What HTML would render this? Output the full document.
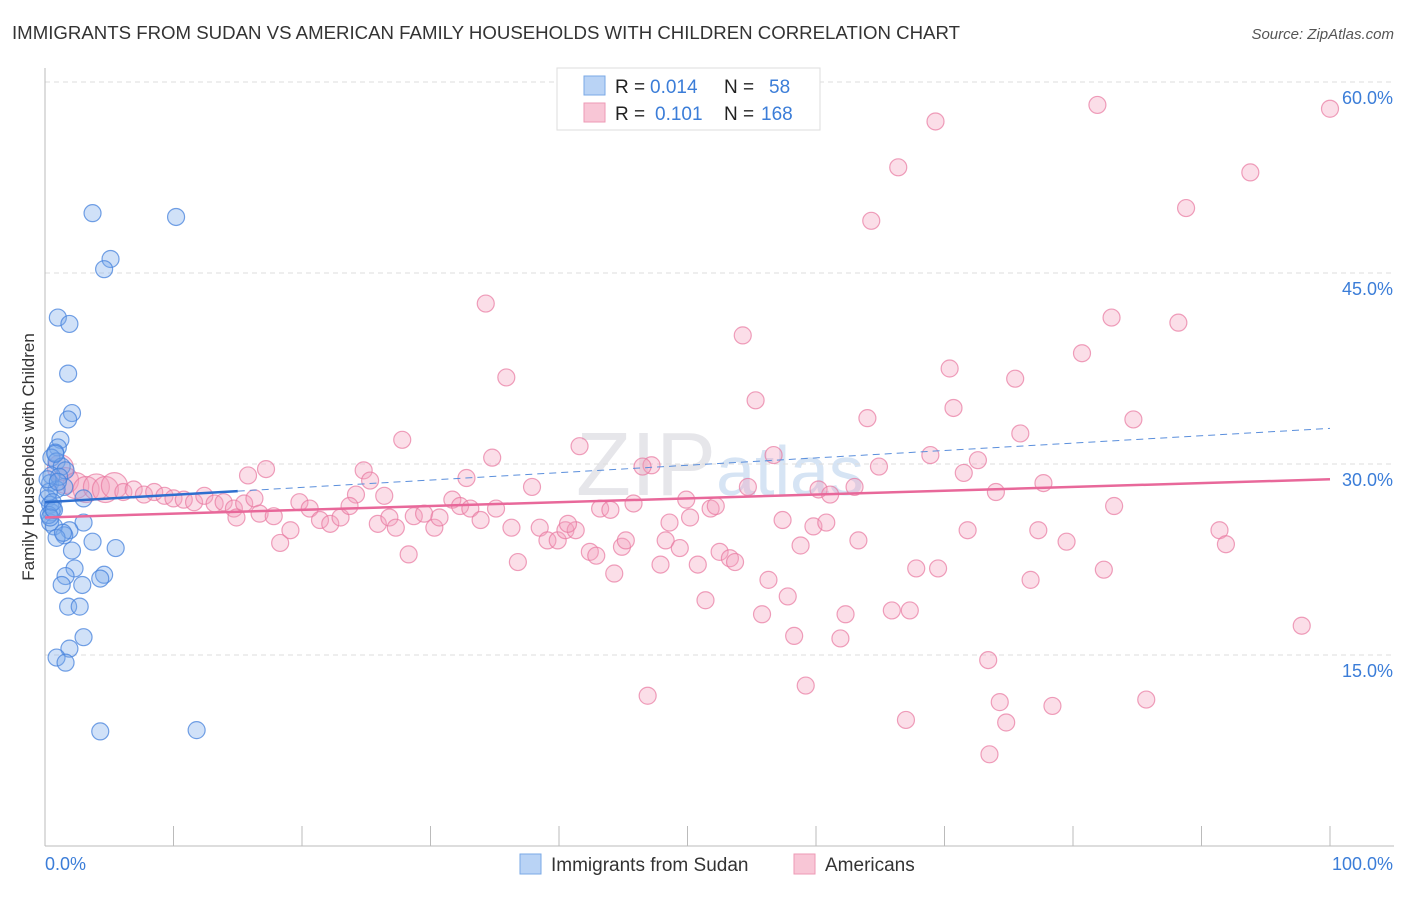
<!DOCTYPE html>
<html><head><meta charset="utf-8"><style>
body{margin:0;background:#fff;font-family:"Liberation Sans",sans-serif}
svg text{font-family:"Liberation Sans",sans-serif}
</style></head><body>
<svg width="1406" height="892" viewBox="0 0 1406 892">
<text x="12" y="39" font-size="18" fill="#333" textLength="948" lengthAdjust="spacingAndGlyphs">IMMIGRANTS FROM SUDAN VS AMERICAN FAMILY HOUSEHOLDS WITH CHILDREN CORRELATION CHART</text>
<text x="1394" y="39" font-size="15" fill="#555" font-style="italic" text-anchor="end">Source: ZipAtlas.com</text>
<text x="720" y="495" font-size="90" fill="#e6e6ea" text-anchor="middle" font-family="Liberation Serif">ZIP<tspan fill="#d6e4f4" font-family="Liberation Sans" font-size="70">atlas</tspan></text>
<g id="grid"></g><g id="axes"></g><g id="pts"></g><g id="trend"></g>
<text transform="translate(34,457) rotate(-90)" font-size="17" fill="#333" text-anchor="middle">Family Households with Children</text>
<g>
<rect x="557" y="68" width="263" height="62" fill="#fff" stroke="#ddd"/>
<rect x="584" y="76" width="21" height="19" fill="#b9d3f5" stroke="#7aa8e6"/>
<text x="615" y="93" font-size="19" fill="#222">R = <tspan fill="#3b7dd8" x="650">0.014</tspan><tspan x="724">N = </tspan><tspan fill="#3b7dd8" x="769">58</tspan></text>
<rect x="584" y="103" width="21" height="19" fill="#f8c6d6" stroke="#ee9ab5"/>
<text x="615" y="120" font-size="19" fill="#222">R = <tspan fill="#3b7dd8" x="655">0.101</tspan><tspan x="724">N = </tspan><tspan fill="#3b7dd8" x="761">168</tspan></text>
</g>
<g>
<rect x="520" y="854" width="21" height="20" fill="#b9d3f5" stroke="#7aa8e6"/>
<text x="551" y="871" font-size="19" fill="#333">Immigrants from Sudan</text>
<rect x="794" y="854" width="21" height="20" fill="#f8c6d6" stroke="#ee9ab5"/>
<text x="825" y="871" font-size="19" fill="#333">Americans</text>
</g>
</svg>
<script>
const yTicks=[15,30,45,60];
const xTickLabels=["0.0%","100.0%"];
const sudanX=[3.7,10.2,5.1,4.6,1.0,1.9,1.8,2.1,1.8,1.2,1.0,0.8,0.5,0.9,1.3,1.6,0.5,0.4,1.5,0.9,0.2,0.4,0.5,3.0,0.4,0.7,3.0,1.9,1.5,0.9,3.7,5.5,2.1,2.3,1.6,4.6,1.3,2.9,4.3,1.8,2.7,3.0,1.9,0.9,1.6,4.3,11.8,0.3,0.6,1.1,0.2,0.8,1.4,0.3,0.6,1.0,0.4,0.7];
const sudanY=[49.7,49.4,46.1,45.3,41.5,41.0,37.1,34.0,33.5,31.9,31.3,30.9,30.5,30.2,29.8,29.5,29.1,28.5,28.2,28.0,27.3,26.8,26.2,27.3,25.4,25.1,25.4,24.8,24.4,24.2,23.9,23.4,23.2,21.8,21.2,21.3,20.5,20.5,21.0,18.8,18.8,16.4,15.5,14.8,14.4,9.0,9.1,27.8,26.5,29.0,28.8,30.8,24.6,26.0,27.0,28.6,25.8,26.4];
const amerX=[81.9,100,69.3,66.4,93.8,88.8,64.3,34.3,83.0,88.2,54.3,80.7,35.9,70.4,75.5,55.3,70.7,64.0,84.7,27.8,41.6,75.9,68.9,56.7,34.8,72.6,47.2,46.5,64.9,17.2,24.8,15.8,71.5,32.8,25.3,77.7,37.9,54.7,60.2,63.0,61.1,74.0,24.2,26.4,1.2,1.6,2.4,3.2,4.0,4.7,5.4,6.1,6.9,7.7,8.5,9.3,10.0,10.8,11.6,12.4,13.2,13.9,14.7,15.5,16.3,14.9,16.7,17.8,18.3,19.1,19.8,20.6,21.4,22.2,23.0,23.7,25.9,26.8,27.3,28.3,28.7,29.5,30.3,30.7,31.7,32.3,33.1,33.9,35.1,36.3,36.8,38.5,39.1,39.9,40.5,41.3,40.7,42.4,42.9,43.2,44.0,44.3,44.9,45.2,45.8,46.9,47.9,48.6,48.3,49.4,49.9,50.2,50.8,51.4,51.8,52.2,52.5,53.3,53.7,55.8,56.3,57.4,57.8,58.3,58.8,59.2,59.8,60.8,62.3,61.9,63.3,65.9,67.0,67.3,67.8,69.5,71.8,73.4,74.3,74.8,73.5,76.7,77.3,79.5,78.4,82.4,83.2,85.7,91.4,91.9,97.8];
const amerY=[58.2,57.9,56.9,53.3,52.9,50.1,49.1,42.6,41.5,41.1,40.1,38.7,36.8,37.5,36.7,35.0,34.4,33.6,33.5,31.9,31.4,32.4,30.7,30.7,30.5,30.3,29.9,29.8,29.8,29.6,29.5,29.1,29.3,28.9,28.7,28.5,28.2,28.2,28.0,28.2,27.6,27.8,27.6,27.5,29.7,28.7,28.3,28.0,28.2,28.0,28.3,27.8,28.0,27.6,27.8,27.5,27.3,27.2,27.0,27.5,26.9,27.0,26.5,26.9,27.3,25.8,26.1,25.9,23.8,24.8,27.0,26.5,25.6,25.3,25.8,26.7,25.3,25.8,25.0,22.9,25.9,26.1,25.0,25.8,27.2,26.7,26.5,25.6,26.5,25.0,22.3,25.0,24.0,24.0,24.8,24.8,25.3,23.1,22.8,26.5,26.4,21.4,23.5,24.0,26.9,11.8,22.1,25.4,24.0,23.4,27.2,25.8,22.1,19.3,26.5,26.7,23.1,22.6,22.3,18.2,20.9,25.6,19.6,16.5,23.6,12.6,25.1,25.4,18.2,16.3,24.0,18.5,9.9,18.5,21.8,21.8,24.8,14.6,11.3,9.7,7.2,20.9,24.8,23.9,11.0,21.7,26.7,11.5,24.8,23.7,17.3];
const sudanTrend=[27.0,32.8];
const amerTrend=[25.8,28.8];
const ns="http://www.w3.org/2000/svg";
const X=v=>45+v*12.85, Y=v=>846-v*191/15;
function mk(tag,attrs,parent){const e=document.createElementNS(ns,tag);for(const k in attrs)e.setAttribute(k,attrs[k]);document.getElementById(parent).appendChild(e);return e;}
yTicks.forEach(t=>{
 const l=mk('line',{x1:45,x2:1394,y1:Y(t),y2:Y(t),stroke:'#ddd','stroke-dasharray':'5,4'},'grid');
 
 
 const tx=mk('text',{x:1393,y:Y(t)+22,'font-size':18,fill:'#3b7dd8','text-anchor':'end'},'grid');
 tx.textContent=t.toFixed(1)+'%';
 
 
});
mk('line',{x1:45,x2:45,y1:68,y2:846,stroke:'#bbb'},'axes');
mk('line',{x1:45,x2:1394,y1:846,y2:846,stroke:'#bbb'},'axes');
for(let i=1;i<=10;i++){const t=mk('line',{x1:X(i*10),x2:X(i*10),y1:826,y2:846,stroke:'#bbb'},'axes');
 
 }
xTickLabels.forEach((s,i)=>{const t=mk('text',{x:i?1393:45,y:870,'font-size':18,fill:'#3b7dd8','text-anchor':i?'end':'start'},'axes');t.textContent=s;
 
 });
amerX.forEach((v,i)=>{const c=mk('circle',{cx:X(v),cy:Y(amerY[i]),r:(v<6&&amerY[i]>27)?13:8.5,fill:'rgba(244,160,188,0.35)',stroke:'rgba(232,120,160,0.7)','stroke-width':1.2},'pts');
 
 });
sudanX.forEach((v,i)=>{const c=mk('circle',{cx:X(v),cy:Y(sudanY[i]),r:8.5,fill:'rgba(120,170,235,0.35)',stroke:'rgba(70,130,220,0.75)','stroke-width':1.2},'pts');
 
 });
const sy=x=>sudanTrend[0]+(sudanTrend[1]-sudanTrend[0])*x/100;
let l=mk('line',{x1:X(0),y1:Y(sy(0)),x2:X(15),y2:Y(sy(15)),stroke:'#2f6fcf','stroke-width':2.5},'trend');


l=mk('line',{x1:X(15),y1:Y(sy(15)),x2:X(100),y2:Y(sy(100)),stroke:'#5b8fdc','stroke-width':1,'stroke-dasharray':'7,5'},'trend');


l=mk('line',{x1:X(0),y1:Y(amerTrend[0]),x2:X(100),y2:Y(amerTrend[1]),stroke:'#e8689a','stroke-width':2.5},'trend');


</script>
</body></html>
